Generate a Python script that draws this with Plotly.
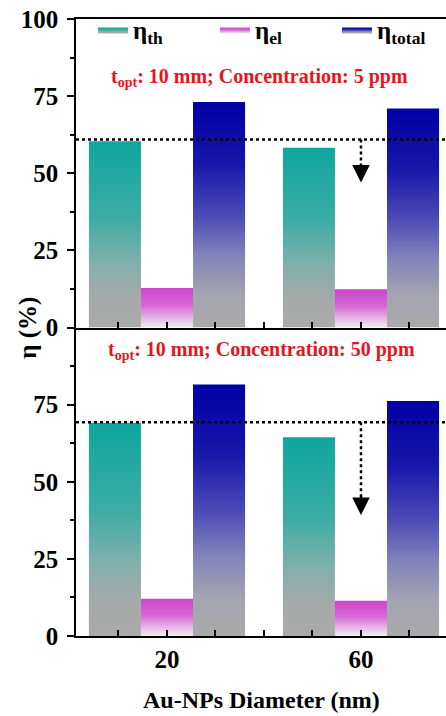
import plotly.graph_objects as go
from plotly.subplots import make_subplots

# ---------------- data ----------------
diameters = [20, 60]
series_keys = ["th", "el", "total"]
series_labels = ["η<sub>th</sub>", "η<sub>el</sub>", "η<sub>total</sub>"]

eta_th_5ppm = [60.4, 58.3]
eta_el_5ppm = [12.8, 12.4]
eta_total_5ppm = [73.1, 71.0]

eta_th_50ppm = [69.1, 64.4]
eta_el_50ppm = [12.1, 11.4]
eta_total_50ppm = [81.5, 76.2]

ref_5ppm = 60.9
arrow_tip_5ppm = 47.0
ref_50ppm = 69.3
arrow_tip_50ppm = 39.2

x_tickvals = [20, 60]
x_ticktext = ["20", "60"]
x_minor_tickvals = [10, 30, 40, 50, 70]
y_tickvals_top = [0, 25, 50, 75, 100]
y_tickvals_bottom = [0, 25, 50, 75]

panel_titles = ["t<sub>opt</sub>: 10 mm; Concentration: 5 ppm",
                "t<sub>opt</sub>: 10 mm; Concentration: 50 ppm"]

# ---------------- style ----------------
FONT = "Liberation Serif, Times New Roman, Times, serif"
RED = "#e8141b"
colorscales = {
    "th": [[0, "#aaaaaa"], [0.15, "#a8a9a9"], [0.35, "#80b0ab"], [0.6, "#3aaca5"], [1, "#0fa69f"]],
    "el": [[0, "#eeeeee"], [0.25, "#e6b4e6"], [0.55, "#d768d7"], [1, "#cc46cc"]],
    "total": [[0, "#aaaaaa"], [0.15, "#a4a4b0"], [0.32, "#8282ba"], [0.5, "#4a4ab6"], [0.72, "#1818aa"], [1, "#0000a6"]],
}
group_spacing = diameters[1] - diameters[0]
bargap = 0.195
bar_w = group_spacing * (1 - bargap) / len(series_keys)

fig = make_subplots(rows=2, cols=1, shared_xaxes=True, vertical_spacing=0)

panels = [
    [eta_th_5ppm, eta_el_5ppm, eta_total_5ppm],
    [eta_th_50ppm, eta_el_50ppm, eta_total_50ppm],
]

for row, panel in enumerate(panels, start=1):
    for s_idx, (key, label, vals) in enumerate(zip(series_keys, series_labels, panel)):
        offset = (s_idx - 1) * bar_w
        for i, (xv, v) in enumerate(zip(diameters, vals)):
            xc = xv + offset
            x0, x1 = xc - bar_w / 2, xc + bar_w / 2
            fig.add_trace(go.Scatter(
                x=[x0, x1, x1, x0, x0], y=[0, 0, v, v, 0],
                mode="lines", fill="toself", line=dict(width=0),
                fillgradient=dict(type="vertical", colorscale=colorscales[key], start=0, stop=v),
                name=label, legendgroup=key,
                showlegend=(row == 1 and i == 0), hoverinfo="skip",
            ), row=row, col=1)

# reference dotted lines and arrows
for row, ref, tip in [(1, ref_5ppm, arrow_tip_5ppm), (2, ref_50ppm, arrow_tip_50ppm)]:
    yref = "y" if row == 1 else "y2"
    xref = "x" if row == 1 else "x2"
    fig.add_shape(type="line", xref="paper", x0=0, x1=1, yref=yref, y0=ref, y1=ref,
                  line=dict(color="black", width=2.5, dash="dot"))
    fig.add_shape(type="line", xref=xref, x0=diameters[1], x1=diameters[1], yref=yref,
                  y0=ref, y1=tip + 5, line=dict(color="black", width=2.5, dash="dot"))
    fig.add_annotation(xref=xref, yref=yref, x=diameters[1], y=tip,
                       axref=xref, ayref=yref, ax=diameters[1], ay=tip + 6.5,
                       showarrow=True, arrowhead=2, arrowsize=1.6, arrowwidth=2.2,
                       arrowcolor="black", text="")

# panel titles
fig.add_annotation(xref="paper", yref="y", x=0.497, y=81.2, text=panel_titles[0],
                   showarrow=False, font=dict(family=FONT, size=20, color=RED, weight="bold"))
fig.add_annotation(xref="paper", yref="y2", x=0.5, y=92.4, text=panel_titles[1],
                   showarrow=False, font=dict(family=FONT, size=20, color=RED, weight="bold"))

# axis titles
fig.add_annotation(xref="paper", yref="paper", x=-0.132, y=0.5, xanchor="center", yanchor="middle",
                   text="η (%)", textangle=-90, showarrow=False,
                   font=dict(family=FONT, size=25, color="black", weight="bold"))
fig.add_annotation(xref="paper", yref="paper", x=0.5, y=-0.104, xanchor="center", yanchor="middle",
                   text="Au-NPs Diameter (nm)", showarrow=False,
                   font=dict(family=FONT, size=24, color="black", weight="bold"))

xaxis_common = dict(range=[1.24, 77.53], showline=True, linecolor="black", linewidth=1.5,
                    ticks="inside", ticklen=6, tickwidth=1.5, tickcolor="black",
                    tickvals=x_tickvals, ticktext=x_ticktext, showgrid=False, zeroline=False,
                    automargin=False,
                    minor=dict(ticks="inside", ticklen=6, tickwidth=1.5, tickcolor="black",
                               tickvals=x_minor_tickvals, showgrid=False),
                    tickfont=dict(family=FONT, size=25, color="black", weight="bold"))
fig.update_xaxes(**xaxis_common)
fig.update_xaxes(mirror=True, showticklabels=False, row=1, col=1)

yaxis_common = dict(range=[0, 100], showline=True, linecolor="black", linewidth=1.5,
                    ticks="outside", ticklen=7, tickwidth=1.5, tickcolor="black",
                    showgrid=False, zeroline=False, ticklabelstandoff=4, automargin=False,
                    minor=dict(ticks="outside", ticklen=4, tickwidth=1.5, tickcolor="black",
                               dtick=12.5, tick0=0, showgrid=False),
                    tickfont=dict(family=FONT, size=25, color="black", weight="bold"))
fig.update_yaxes(**yaxis_common)
fig.update_yaxes(tickvals=y_tickvals_top, row=1, col=1)
fig.update_yaxes(tickvals=y_tickvals_bottom, row=2, col=1)

fig.update_layout(
    width=446, height=716,
    margin=dict(l=76, r=0, t=19, b=80, autoexpand=False),
    paper_bgcolor="white", plot_bgcolor="white",
    font=dict(family=FONT),
    showlegend=True,
    legend=dict(orientation="h", x=0.046, y=1.02, xanchor="left", yanchor="top",
                bgcolor="rgba(0,0,0,0)", entrywidth=77, entrywidthmode="pixels",
                font=dict(family=FONT, size=25, color="black", weight="bold"),
                tracegroupgap=0),
)

fig.write_html("out.html",
               config={"displayModeBar": False},
               post_script="document.body.style.margin='0';document.body.style.padding='0';"
                           "document.body.style.overflow='hidden';")
